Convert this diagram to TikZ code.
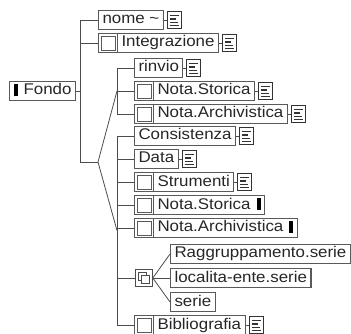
\documentclass[tikz,border=0pt]{standalone}
\usepackage{fontspec}
\setmainfont{Liberation Sans}[FakeStretch=1.09]
\usetikzlibrary{positioning}
\begin{document}
\begin{tikzpicture}[x=1pt,y=-1pt,
  link/.style={draw=black!70, line width=0.8pt},
  elem/.style={draw=black!65, line width=1.1pt,
    anchor=west, minimum height=19pt, inner xsep=4pt, inner ysep=0pt,
    text height=11pt, text depth=3pt, text=black!85,
    font=\fontsize{15.5pt}{18pt}\selectfont},
  opt/.style={elem, execute at begin node={\hspace*{19pt}},
    path picture={
      \draw[black!65, line width=0.8pt]
        ([xshift=2.5pt,yshift=-2.5pt]path picture bounding box.north west) rectangle
        ([xshift=17pt,yshift=2.5pt]path picture bounding box.south west);
      \draw[black!65, line width=0.8pt]
        ([xshift=19pt]path picture bounding box.north west) --
        ([xshift=19pt]path picture bounding box.south west);}},
  endbar/.style={execute at end node={\hspace{6pt}\textcolor{black}{\rule[-1pt]{4pt}{12pt}}}},
  doc/.style={draw=black!80, line width=0.8pt, minimum width=14pt, minimum height=17pt,
    inner sep=0pt,
    path picture={
      \foreach \dy/\len in {4pt/9pt,7.5pt/6pt,11pt/8pt,14pt/9pt}
        \draw[line width=1.5pt]
          ([xshift=2.5pt,yshift=-\dy]path picture bounding box.north west) -- ++(\len,0);}},
  group/.style={draw=black!70, line width=0.8pt, anchor=west, minimum size=17pt, inner sep=0pt,
    path picture={
      \draw[black!70] ([xshift=3pt,yshift=-3pt]path picture bounding box.north west)
        rectangle ++(8pt,-8pt);
      \draw[black!70, fill=white] ([xshift=6pt,yshift=-6pt]path picture bounding box.north west)
        rectangle ++(8pt,-8pt);}}]

\useasboundingbox (0,0) rectangle (351,334);

% Fondo
\node[elem, execute at begin node={\textcolor{black}{\rule[-1pt]{4pt}{12pt}}\hspace{6pt}}]
  (fondo) at (9,91) {Fondo};

% Primo livello
\node[elem] (nome) at (98,20) {nome \textasciitilde};
\node[opt] (integr) at (98,43) {Integrazione};

% Integrazione
\node[elem] (rinvio) at (134,68) {rinvio};
\node[opt] (ns1) at (134,91) {Nota.Storica};
\node[opt] (na1) at (134,114) {Nota.Archivistica};

% Descrizione
\node[elem] (cons) at (134,136) {Consistenza};
\node[elem] (data) at (134,159) {Data};
\node[opt] (strum) at (134,182) {Strumenti};
\node[opt, endbar] (ns2) at (134,205) {Nota.Storica};
\node[opt, endbar] (na2) at (134,228) {Nota.Archivistica};
\node[group] (choice) at (135,278) {};
\node[opt] (biblio) at (134,325) {Bibliografia};

% Serie
\node[elem] (rag) at (170,254) {Raggruppamento.serie};
\node[elem] (loc) at (170,278) {localita-ente.serie};
\node[elem] (serie) at (170,302) {serie};

% Documentazione
\foreach \n in {nome,integr,rinvio,ns1,na1,cons,data,strum,biblio}
{
  \node[doc, right=3pt of \n] (\n-doc) {};
  \draw[link] (\n) -- (\n-doc);
}

% Rami
\coordinate (seq) at (80,162);
\coordinate (fork) at (98,162);
\coordinate (g1) at (117,91);
\coordinate (g2) at (117,230.5);

\draw[link] (fondo.east) -- (fondo.east -| seq);
\draw[link] (seq |- nome.west) -- (seq) -- (fork);
\draw[link] (seq |- nome.west) -- (nome.west);
\draw[link] (seq |- integr.west) -- (integr.west);

\draw[link] (g1) -- (fork) -- (g2);

\draw[link] (g1 |- rinvio.west) -- (g1 |- na1.west);
\foreach \n in {rinvio,ns1,na1}
  \draw[link] (g1 |- \n.west) -- (\n.west);

\draw[link] (g2 |- cons.west) -- (g2 |- biblio.west);
\foreach \n in {cons,data,strum,ns2,na2,choice,biblio}
  \draw[link] (g2 |- \n.west) -- (\n.west);

\foreach \n in {rag,loc,serie}
  \draw[link] (choice.east) -- (\n.west);

\end{tikzpicture}
\end{document}
